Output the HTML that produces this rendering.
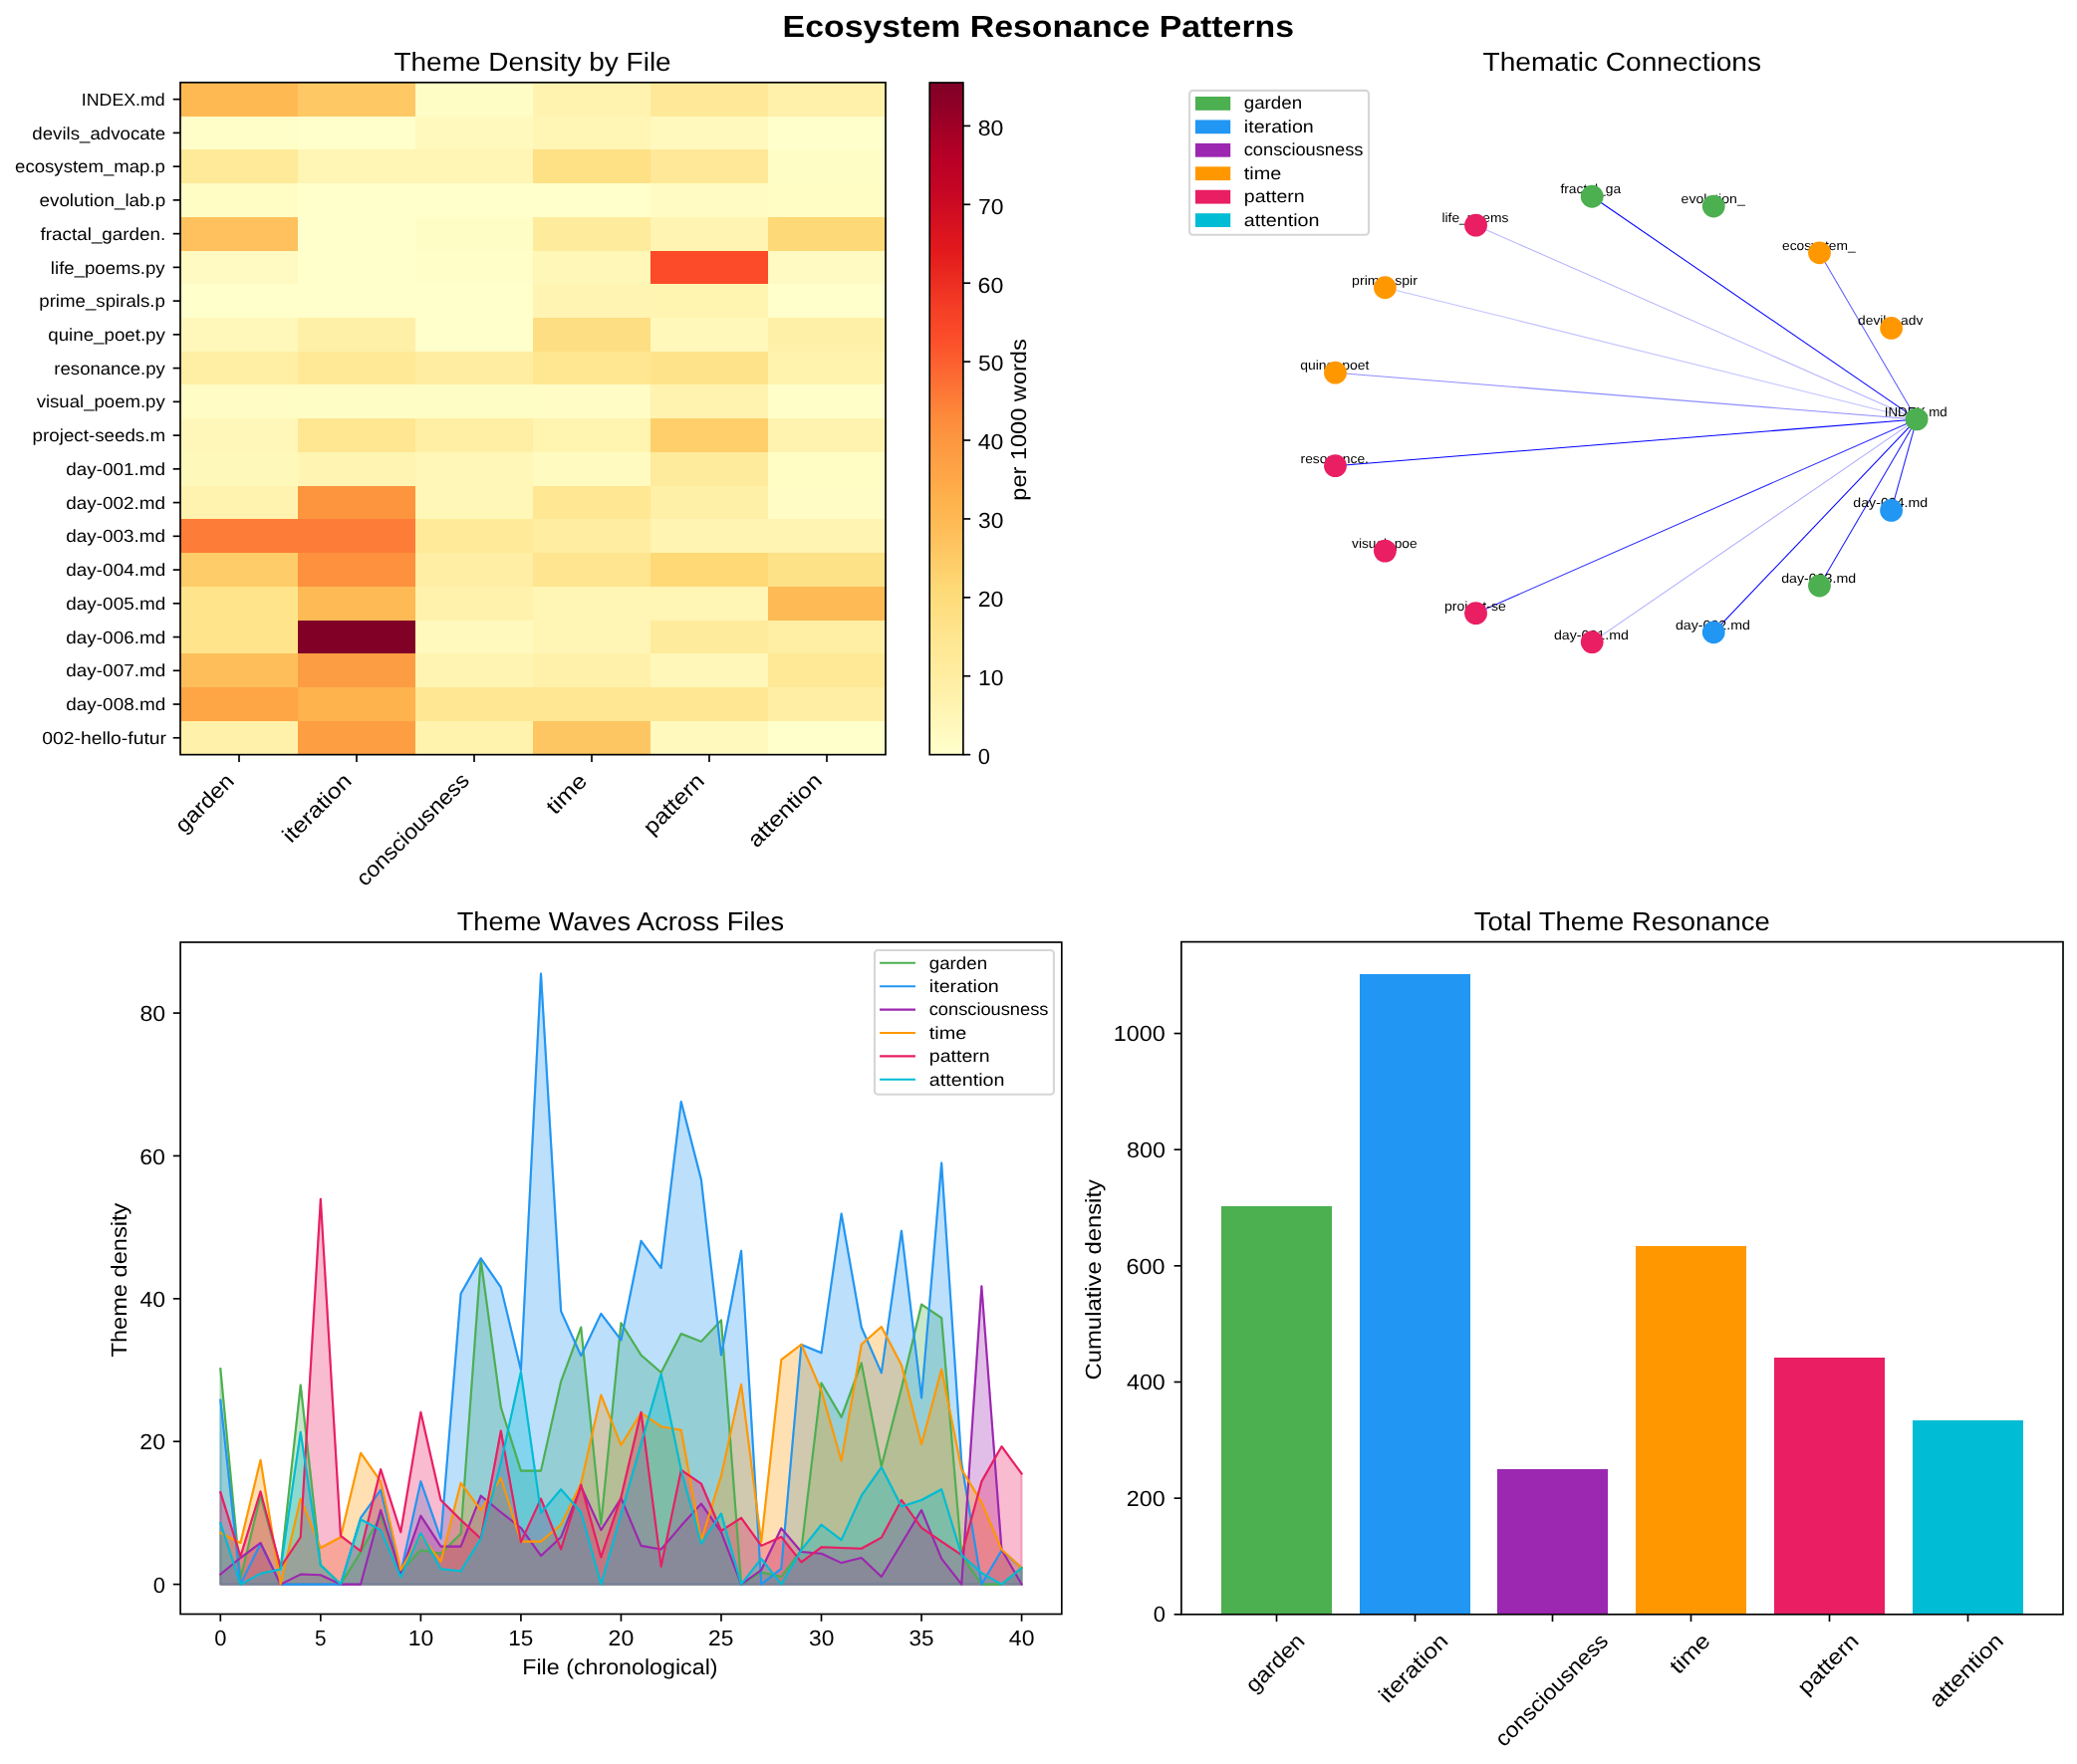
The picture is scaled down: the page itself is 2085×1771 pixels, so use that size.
<!DOCTYPE html>
<html><head><meta charset="utf-8"><title>Ecosystem Resonance Patterns</title>
<style>html,body{margin:0;padding:0;background:#fff}svg{display:block;will-change:transform}text{font-family:"Liberation Sans", sans-serif;text-rendering:geometricPrecision}</style></head>
<body>
<svg width="2085" height="1771" viewBox="0 0 2085 1771" font-family='"Liberation Sans", sans-serif' fill="#000">
<rect width="2085" height="1771" fill="#fff"/>
<g shape-rendering="crispEdges">
<rect x="181" y="82.8" width="118.5" height="34.24" fill="#feb953"/>
<rect x="299" y="82.8" width="118.5" height="34.24" fill="#fec965"/>
<rect x="417" y="82.8" width="118.5" height="34.24" fill="#fffdc6"/>
<rect x="535" y="82.8" width="118.5" height="34.24" fill="#fff3af"/>
<rect x="653" y="82.8" width="118.5" height="34.24" fill="#ffe998"/>
<rect x="771" y="82.8" width="118.5" height="34.24" fill="#fff1a9"/>
<rect x="181" y="116.54" width="118.5" height="34.24" fill="#fffec9"/>
<rect x="299" y="116.54" width="118.5" height="34.24" fill="#ffffcc"/>
<rect x="417" y="116.54" width="118.5" height="34.24" fill="#fff9bd"/>
<rect x="535" y="116.54" width="118.5" height="34.24" fill="#fff5b5"/>
<rect x="653" y="116.54" width="118.5" height="34.24" fill="#fff9bd"/>
<rect x="771" y="116.54" width="118.5" height="34.24" fill="#ffffcc"/>
<rect x="181" y="150.28" width="118.5" height="34.24" fill="#ffea99"/>
<rect x="299" y="150.28" width="118.5" height="34.24" fill="#fff5b5"/>
<rect x="417" y="150.28" width="118.5" height="34.24" fill="#fff5b5"/>
<rect x="535" y="150.28" width="118.5" height="34.24" fill="#fee085"/>
<rect x="653" y="150.28" width="118.5" height="34.24" fill="#ffe998"/>
<rect x="771" y="150.28" width="118.5" height="34.24" fill="#fffdc6"/>
<rect x="181" y="184.03" width="118.5" height="34.24" fill="#fffcc4"/>
<rect x="299" y="184.03" width="118.5" height="34.24" fill="#ffffcc"/>
<rect x="417" y="184.03" width="118.5" height="34.24" fill="#ffffcc"/>
<rect x="535" y="184.03" width="118.5" height="34.24" fill="#ffffcc"/>
<rect x="653" y="184.03" width="118.5" height="34.24" fill="#fffbc2"/>
<rect x="771" y="184.03" width="118.5" height="34.24" fill="#fffcc4"/>
<rect x="181" y="217.77" width="118.5" height="34.24" fill="#fec15d"/>
<rect x="299" y="217.77" width="118.5" height="34.24" fill="#ffffcc"/>
<rect x="417" y="217.77" width="118.5" height="34.24" fill="#fffdc6"/>
<rect x="535" y="217.77" width="118.5" height="34.24" fill="#ffeb9c"/>
<rect x="653" y="217.77" width="118.5" height="34.24" fill="#fff4b2"/>
<rect x="771" y="217.77" width="118.5" height="34.24" fill="#fed977"/>
<rect x="181" y="251.51" width="118.5" height="34.24" fill="#fffac1"/>
<rect x="299" y="251.51" width="118.5" height="34.24" fill="#ffffcc"/>
<rect x="417" y="251.51" width="118.5" height="34.24" fill="#fffdc8"/>
<rect x="535" y="251.51" width="118.5" height="34.24" fill="#fff7b7"/>
<rect x="653" y="251.51" width="118.5" height="34.24" fill="#fb4b29"/>
<rect x="771" y="251.51" width="118.5" height="34.24" fill="#fffac1"/>
<rect x="181" y="285.25" width="118.5" height="34.24" fill="#ffffcc"/>
<rect x="299" y="285.25" width="118.5" height="34.24" fill="#ffffcc"/>
<rect x="417" y="285.25" width="118.5" height="34.24" fill="#ffffcc"/>
<rect x="535" y="285.25" width="118.5" height="34.24" fill="#fff4b2"/>
<rect x="653" y="285.25" width="118.5" height="34.24" fill="#fff4b0"/>
<rect x="771" y="285.25" width="118.5" height="34.24" fill="#ffffcc"/>
<rect x="181" y="319" width="118.5" height="34.24" fill="#fff8ba"/>
<rect x="299" y="319" width="118.5" height="34.24" fill="#fff0a7"/>
<rect x="417" y="319" width="118.5" height="34.24" fill="#ffffcc"/>
<rect x="535" y="319" width="118.5" height="34.24" fill="#fede82"/>
<rect x="653" y="319" width="118.5" height="34.24" fill="#fff8ba"/>
<rect x="771" y="319" width="118.5" height="34.24" fill="#fff0a7"/>
<rect x="181" y="352.74" width="118.5" height="34.24" fill="#ffefa5"/>
<rect x="299" y="352.74" width="118.5" height="34.24" fill="#ffe997"/>
<rect x="417" y="352.74" width="118.5" height="34.24" fill="#ffeda1"/>
<rect x="535" y="352.74" width="118.5" height="34.24" fill="#ffe691"/>
<rect x="653" y="352.74" width="118.5" height="34.24" fill="#fee38b"/>
<rect x="771" y="352.74" width="118.5" height="34.24" fill="#fff3ae"/>
<rect x="181" y="386.48" width="118.5" height="34.24" fill="#fffcc5"/>
<rect x="299" y="386.48" width="118.5" height="34.24" fill="#fffdc6"/>
<rect x="417" y="386.48" width="118.5" height="34.24" fill="#fffdc6"/>
<rect x="535" y="386.48" width="118.5" height="34.24" fill="#fffcc5"/>
<rect x="653" y="386.48" width="118.5" height="34.24" fill="#fff3af"/>
<rect x="771" y="386.48" width="118.5" height="34.24" fill="#fffec9"/>
<rect x="181" y="420.23" width="118.5" height="34.24" fill="#fff7b9"/>
<rect x="299" y="420.23" width="118.5" height="34.24" fill="#ffe691"/>
<rect x="417" y="420.23" width="118.5" height="34.24" fill="#ffefa5"/>
<rect x="535" y="420.23" width="118.5" height="34.24" fill="#fff4b0"/>
<rect x="653" y="420.23" width="118.5" height="34.24" fill="#fecf6b"/>
<rect x="771" y="420.23" width="118.5" height="34.24" fill="#fff3af"/>
<rect x="181" y="453.97" width="118.5" height="34.24" fill="#fff8bb"/>
<rect x="299" y="453.97" width="118.5" height="34.24" fill="#fff4b2"/>
<rect x="417" y="453.97" width="118.5" height="34.24" fill="#fff7b7"/>
<rect x="535" y="453.97" width="118.5" height="34.24" fill="#fffac0"/>
<rect x="653" y="453.97" width="118.5" height="34.24" fill="#ffeb9c"/>
<rect x="771" y="453.97" width="118.5" height="34.24" fill="#fffcc4"/>
<rect x="181" y="487.71" width="118.5" height="34.24" fill="#fff3af"/>
<rect x="299" y="487.71" width="118.5" height="34.24" fill="#fd953f"/>
<rect x="417" y="487.71" width="118.5" height="34.24" fill="#fff7b7"/>
<rect x="535" y="487.71" width="118.5" height="34.24" fill="#ffe793"/>
<rect x="653" y="487.71" width="118.5" height="34.24" fill="#fff0a8"/>
<rect x="771" y="487.71" width="118.5" height="34.24" fill="#fffcc5"/>
<rect x="181" y="521.45" width="118.5" height="34.24" fill="#fd7c37"/>
<rect x="299" y="521.45" width="118.5" height="34.24" fill="#fd7c37"/>
<rect x="417" y="521.45" width="118.5" height="34.24" fill="#ffea99"/>
<rect x="535" y="521.45" width="118.5" height="34.24" fill="#ffeda1"/>
<rect x="653" y="521.45" width="118.5" height="34.24" fill="#fff4b2"/>
<rect x="771" y="521.45" width="118.5" height="34.24" fill="#fff4b2"/>
<rect x="181" y="555.19" width="118.5" height="34.24" fill="#fecc68"/>
<rect x="299" y="555.19" width="118.5" height="34.24" fill="#fd913e"/>
<rect x="417" y="555.19" width="118.5" height="34.24" fill="#ffeea3"/>
<rect x="535" y="555.19" width="118.5" height="34.24" fill="#ffe590"/>
<rect x="653" y="555.19" width="118.5" height="34.24" fill="#fed976"/>
<rect x="771" y="555.19" width="118.5" height="34.24" fill="#fee288"/>
<rect x="181" y="588.94" width="118.5" height="34.24" fill="#ffe48c"/>
<rect x="299" y="588.94" width="118.5" height="34.24" fill="#feba55"/>
<rect x="417" y="588.94" width="118.5" height="34.24" fill="#fff2ac"/>
<rect x="535" y="588.94" width="118.5" height="34.24" fill="#fff5b5"/>
<rect x="653" y="588.94" width="118.5" height="34.24" fill="#fff5b5"/>
<rect x="771" y="588.94" width="118.5" height="34.24" fill="#feba55"/>
<rect x="181" y="622.68" width="118.5" height="34.24" fill="#ffe48c"/>
<rect x="299" y="622.68" width="118.5" height="34.24" fill="#800026"/>
<rect x="417" y="622.68" width="118.5" height="34.24" fill="#fff9bd"/>
<rect x="535" y="622.68" width="118.5" height="34.24" fill="#fff5b5"/>
<rect x="653" y="622.68" width="118.5" height="34.24" fill="#ffeb9c"/>
<rect x="771" y="622.68" width="118.5" height="34.24" fill="#ffefa4"/>
<rect x="181" y="656.42" width="118.5" height="34.24" fill="#febf5a"/>
<rect x="299" y="656.42" width="118.5" height="34.24" fill="#fd9d43"/>
<rect x="417" y="656.42" width="118.5" height="34.24" fill="#fff4b2"/>
<rect x="535" y="656.42" width="118.5" height="34.24" fill="#fff1a9"/>
<rect x="653" y="656.42" width="118.5" height="34.24" fill="#fff7b9"/>
<rect x="771" y="656.42" width="118.5" height="34.24" fill="#ffe997"/>
<rect x="181" y="690.16" width="118.5" height="34.24" fill="#fea546"/>
<rect x="299" y="690.16" width="118.5" height="34.24" fill="#feb34d"/>
<rect x="417" y="690.16" width="118.5" height="34.24" fill="#ffe794"/>
<rect x="535" y="690.16" width="118.5" height="34.24" fill="#ffe793"/>
<rect x="653" y="690.16" width="118.5" height="34.24" fill="#ffe794"/>
<rect x="771" y="690.16" width="118.5" height="34.24" fill="#ffeea3"/>
<rect x="181" y="723.91" width="118.5" height="34.24" fill="#fff1a9"/>
<rect x="299" y="723.91" width="118.5" height="34.24" fill="#fd9e43"/>
<rect x="417" y="723.91" width="118.5" height="34.24" fill="#fff3ae"/>
<rect x="535" y="723.91" width="118.5" height="34.24" fill="#fec662"/>
<rect x="653" y="723.91" width="118.5" height="34.24" fill="#fff9bd"/>
<rect x="771" y="723.91" width="118.5" height="34.24" fill="#ffffcc"/>
</g>
<rect x="181" y="82.8" width="708" height="674.85" fill="none" stroke="#000" stroke-width="1.67"/>
<line x1="240" y1="757.65" x2="240" y2="764.94" stroke="#000" stroke-width="1.67"/>
<line x1="358" y1="757.65" x2="358" y2="764.94" stroke="#000" stroke-width="1.67"/>
<line x1="476" y1="757.65" x2="476" y2="764.94" stroke="#000" stroke-width="1.67"/>
<line x1="594" y1="757.65" x2="594" y2="764.94" stroke="#000" stroke-width="1.67"/>
<line x1="712" y1="757.65" x2="712" y2="764.94" stroke="#000" stroke-width="1.67"/>
<line x1="830" y1="757.65" x2="830" y2="764.94" stroke="#000" stroke-width="1.67"/>
<line x1="181" y1="99.67" x2="173.71" y2="99.67" stroke="#000" stroke-width="1.67"/>
<line x1="181" y1="133.41" x2="173.71" y2="133.41" stroke="#000" stroke-width="1.67"/>
<line x1="181" y1="167.16" x2="173.71" y2="167.16" stroke="#000" stroke-width="1.67"/>
<line x1="181" y1="200.9" x2="173.71" y2="200.9" stroke="#000" stroke-width="1.67"/>
<line x1="181" y1="234.64" x2="173.71" y2="234.64" stroke="#000" stroke-width="1.67"/>
<line x1="181" y1="268.38" x2="173.71" y2="268.38" stroke="#000" stroke-width="1.67"/>
<line x1="181" y1="302.13" x2="173.71" y2="302.13" stroke="#000" stroke-width="1.67"/>
<line x1="181" y1="335.87" x2="173.71" y2="335.87" stroke="#000" stroke-width="1.67"/>
<line x1="181" y1="369.61" x2="173.71" y2="369.61" stroke="#000" stroke-width="1.67"/>
<line x1="181" y1="403.35" x2="173.71" y2="403.35" stroke="#000" stroke-width="1.67"/>
<line x1="181" y1="437.1" x2="173.71" y2="437.1" stroke="#000" stroke-width="1.67"/>
<line x1="181" y1="470.84" x2="173.71" y2="470.84" stroke="#000" stroke-width="1.67"/>
<line x1="181" y1="504.58" x2="173.71" y2="504.58" stroke="#000" stroke-width="1.67"/>
<line x1="181" y1="538.32" x2="173.71" y2="538.32" stroke="#000" stroke-width="1.67"/>
<line x1="181" y1="572.07" x2="173.71" y2="572.07" stroke="#000" stroke-width="1.67"/>
<line x1="181" y1="605.81" x2="173.71" y2="605.81" stroke="#000" stroke-width="1.67"/>
<line x1="181" y1="639.55" x2="173.71" y2="639.55" stroke="#000" stroke-width="1.67"/>
<line x1="181" y1="673.29" x2="173.71" y2="673.29" stroke="#000" stroke-width="1.67"/>
<line x1="181" y1="707.04" x2="173.71" y2="707.04" stroke="#000" stroke-width="1.67"/>
<line x1="181" y1="740.78" x2="173.71" y2="740.78" stroke="#000" stroke-width="1.67"/>
<defs><linearGradient id="cbg" x1="0" y1="1" x2="0" y2="0"><stop offset="0" stop-color="#ffffcc"/><stop offset="0.03" stop-color="#fffac1"/><stop offset="0.06" stop-color="#fff6b6"/><stop offset="0.09" stop-color="#fff1ab"/><stop offset="0.12" stop-color="#ffeda0"/><stop offset="0.16" stop-color="#ffe895"/><stop offset="0.19" stop-color="#fee38b"/><stop offset="0.22" stop-color="#fede80"/><stop offset="0.25" stop-color="#fed976"/><stop offset="0.28" stop-color="#fecf6b"/><stop offset="0.31" stop-color="#fec561"/><stop offset="0.34" stop-color="#febb56"/><stop offset="0.38" stop-color="#feb24c"/><stop offset="0.41" stop-color="#fea848"/><stop offset="0.44" stop-color="#fd9f44"/><stop offset="0.47" stop-color="#fd9640"/><stop offset="0.5" stop-color="#fd8c3c"/><stop offset="0.53" stop-color="#fd7c37"/><stop offset="0.56" stop-color="#fc6c33"/><stop offset="0.59" stop-color="#fc5d2e"/><stop offset="0.62" stop-color="#fc4d2a"/><stop offset="0.66" stop-color="#f54026"/><stop offset="0.69" stop-color="#ef3323"/><stop offset="0.72" stop-color="#e9261f"/><stop offset="0.75" stop-color="#e2191c"/><stop offset="0.78" stop-color="#d9131f"/><stop offset="0.81" stop-color="#cf0c21"/><stop offset="0.84" stop-color="#c50624"/><stop offset="0.88" stop-color="#bb0026"/><stop offset="0.91" stop-color="#ac0026"/><stop offset="0.94" stop-color="#9d0026"/><stop offset="0.97" stop-color="#8d0026"/><stop offset="1" stop-color="#800026"/></linearGradient></defs>
<rect x="933.2" y="83" width="33.7" height="674.65" fill="url(#cbg)"/>
<rect x="933.2" y="83" width="33.7" height="674.65" fill="none" stroke="#000" stroke-width="1.67"/>
<line x1="966.9" y1="757.65" x2="974.19" y2="757.65" stroke="#000" stroke-width="1.67"/>
<line x1="966.9" y1="678.74" x2="974.19" y2="678.74" stroke="#000" stroke-width="1.67"/>
<line x1="966.9" y1="599.84" x2="974.19" y2="599.84" stroke="#000" stroke-width="1.67"/>
<line x1="966.9" y1="520.93" x2="974.19" y2="520.93" stroke="#000" stroke-width="1.67"/>
<line x1="966.9" y1="442.02" x2="974.19" y2="442.02" stroke="#000" stroke-width="1.67"/>
<line x1="966.9" y1="363.12" x2="974.19" y2="363.12" stroke="#000" stroke-width="1.67"/>
<line x1="966.9" y1="284.21" x2="974.19" y2="284.21" stroke="#000" stroke-width="1.67"/>
<line x1="966.9" y1="205.3" x2="974.19" y2="205.3" stroke="#000" stroke-width="1.67"/>
<line x1="966.9" y1="126.4" x2="974.19" y2="126.4" stroke="#000" stroke-width="1.67"/>
<line x1="1924.08" y1="420.93" x2="1598.21" y2="197.27" stroke="#0000ff" stroke-opacity="1.0" stroke-width="1.04"/>
<line x1="1924.08" y1="420.93" x2="1826.47" y2="253.8" stroke="#0000ff" stroke-opacity="0.65" stroke-width="1.04"/>
<line x1="1924.08" y1="420.93" x2="1481.53" y2="226.17" stroke="#0000ff" stroke-opacity="0.3" stroke-width="1.04"/>
<line x1="1924.08" y1="420.93" x2="1390.36" y2="288.74" stroke="#0000ff" stroke-opacity="0.25" stroke-width="1.04"/>
<line x1="1924.08" y1="420.93" x2="1340.46" y2="374.17" stroke="#0000ff" stroke-opacity="0.45" stroke-width="1.04"/>
<line x1="1924.08" y1="420.93" x2="1340.46" y2="467.68" stroke="#0000ff" stroke-opacity="1.0" stroke-width="1.04"/>
<line x1="1924.08" y1="420.93" x2="1481.53" y2="615.68" stroke="#0000ff" stroke-opacity="0.85" stroke-width="1.04"/>
<line x1="1924.08" y1="420.93" x2="1598.21" y2="644.58" stroke="#0000ff" stroke-opacity="0.33" stroke-width="1.04"/>
<line x1="1924.08" y1="420.93" x2="1720.22" y2="634.8" stroke="#0000ff" stroke-opacity="1.0" stroke-width="1.04"/>
<line x1="1924.08" y1="420.93" x2="1826.47" y2="588.05" stroke="#0000ff" stroke-opacity="0.9" stroke-width="1.04"/>
<line x1="1924.08" y1="420.93" x2="1898.58" y2="512.39" stroke="#0000ff" stroke-opacity="0.9" stroke-width="1.04"/>
<g>
<polygon points="221.31,1590.6 221.31,1374.1 241.42,1584.86 261.53,1501.7 281.63,1574.83 301.74,1390.58 321.85,1571.24 341.95,1590.6 362.06,1558.34 382.17,1521.78 402.27,1577.7 422.38,1556.19 442.49,1559.77 462.6,1539.7 482.7,1264.77 502.81,1412.81 522.92,1476.61 543.02,1476.61 563.13,1387 583.24,1332.52 603.34,1530.38 623.45,1328.21 643.56,1360.48 663.66,1378.04 683.77,1338.97 703.88,1346.85 723.98,1325.35 744.09,1590.6 764.2,1578.41 784.3,1583.07 804.41,1556.19 824.52,1388.43 844.62,1422.85 864.73,1368.36 884.84,1472.31 904.95,1393.45 925.05,1309.58 945.16,1323.2 965.27,1561.92 985.37,1590.6 1005.48,1590.6 1025.59,1574.11 1025.59,1590.6" fill="#4CAF50" fill-opacity="0.3" stroke="#4CAF50" stroke-opacity="0.3" stroke-width="2.08" stroke-linejoin="round"/>
<polygon points="221.31,1590.6 221.31,1405.64 241.42,1590.6 261.53,1549.74 281.63,1590.6 301.74,1590.6 321.85,1590.6 341.95,1590.6 362.06,1523.93 382.17,1495.97 402.27,1579.13 422.38,1487.37 442.49,1544.72 462.6,1298.82 482.7,1263.26 502.81,1292.37 522.92,1375.53 543.02,977.65 563.13,1316.39 583.24,1361.19 603.34,1318.89 623.45,1345.42 643.56,1245.77 663.66,1273.01 683.77,1105.98 703.88,1184.12 723.98,1360.48 744.09,1255.81 764.2,1590.6 784.3,1574.83 804.41,1350.08 824.52,1358.32 844.62,1218.53 864.73,1332.52 884.84,1378.4 904.95,1235.73 925.05,1403.49 945.16,1167.63 965.27,1468.73 985.37,1590.6 1005.48,1556.55 1025.59,1574.11 1025.59,1590.6" fill="#2196F3" fill-opacity="0.3" stroke="#2196F3" stroke-opacity="0.3" stroke-width="2.08" stroke-linejoin="round"/>
<polygon points="221.31,1590.6 221.31,1580.56 241.42,1564.07 261.53,1549.02 281.63,1590.6 301.74,1580.56 321.85,1581.28 341.95,1590.6 362.06,1590.6 382.17,1516.04 402.27,1579.85 422.38,1521.78 442.49,1552.6 462.6,1552.6 482.7,1501.7 502.81,1518.19 522.92,1533.96 543.02,1561.92 563.13,1543.28 583.24,1492.38 603.34,1536.12 623.45,1504.21 643.56,1551.89 663.66,1555.47 683.77,1531.81 703.88,1509.59 723.98,1538.27 744.09,1590.6 764.2,1576.26 784.3,1534.32 804.41,1557.98 824.52,1559.77 844.62,1569.09 864.73,1564.07 884.84,1583.07 904.95,1549.74 925.05,1516.04 945.16,1564.79 965.27,1590.6 985.37,1291.29 1005.48,1555.83 1025.59,1590.6 1025.59,1590.6" fill="#9C27B0" fill-opacity="0.3" stroke="#9C27B0" stroke-opacity="0.3" stroke-width="2.08" stroke-linejoin="round"/>
<polygon points="221.31,1590.6 221.31,1538.98 241.42,1549.02 261.53,1465.86 281.63,1590.6 301.74,1504.57 321.85,1554.04 341.95,1543.28 362.06,1458.69 382.17,1487.37 402.27,1576.26 422.38,1541.13 442.49,1567.66 462.6,1488.8 482.7,1516.04 502.81,1483.78 522.92,1547.59 543.02,1547.59 563.13,1530.74 583.24,1489.52 603.34,1400.62 623.45,1450.8 643.56,1418.54 663.66,1432.17 683.77,1435.75 703.88,1546.87 723.98,1481.63 744.09,1389.87 764.2,1548.3 784.3,1365.13 804.41,1349.72 824.52,1396.32 844.62,1466.58 864.73,1349.72 884.84,1332.09 904.95,1370.51 925.05,1450.09 945.16,1374.81 965.27,1475.18 985.37,1508.16 1005.48,1555.83 1025.59,1574.11 1025.59,1590.6" fill="#FF9800" fill-opacity="0.3" stroke="#FF9800" stroke-opacity="0.3" stroke-width="2.08" stroke-linejoin="round"/>
<polygon points="221.31,1590.6 221.31,1498.12 241.42,1562.64 261.53,1497.4 281.63,1573.39 301.74,1543.28 321.85,1203.76 341.95,1541.85 362.06,1557.26 382.17,1475.18 402.27,1538.27 422.38,1417.83 442.49,1506.01 462.6,1526.08 482.7,1544.72 502.81,1436.47 522.92,1548.3 543.02,1504.57 563.13,1555.47 583.24,1490.59 603.34,1563.36 623.45,1503.14 643.56,1417.83 663.66,1572.68 683.77,1475.9 703.88,1489.52 723.98,1536.83 744.09,1523.93 764.2,1551.89 784.3,1542.93 804.41,1568.38 824.52,1553.32 844.62,1554.04 864.73,1554.75 884.84,1543.64 904.95,1506.01 925.05,1533.96 945.16,1547.59 965.27,1561.21 985.37,1487.37 1005.48,1452.24 1025.59,1479.48 1025.59,1590.6" fill="#E91E63" fill-opacity="0.3" stroke="#E91E63" stroke-opacity="0.3" stroke-width="2.08" stroke-linejoin="round"/>
<polygon points="221.31,1590.6 221.31,1528.95 241.42,1590.6 261.53,1579.85 281.63,1575.55 301.74,1437.9 321.85,1571.24 341.95,1590.6 362.06,1525.36 382.17,1536.12 402.27,1583.43 422.38,1539.34 442.49,1575.19 462.6,1577.34 482.7,1544.72 502.81,1468.73 522.92,1377.32 543.02,1518.91 563.13,1495.25 583.24,1518.19 603.34,1590.6 623.45,1520.34 643.56,1449.37 663.66,1379.47 683.77,1475.9 703.88,1549.74 723.98,1519.63 744.09,1590.6 764.2,1564.79 784.3,1590.6 804.41,1556.19 824.52,1530.74 844.62,1546.15 864.73,1501.7 884.84,1473.03 904.95,1512.46 925.05,1506.01 945.16,1495.25 965.27,1561.21 985.37,1579.13 1005.48,1590.6 1025.59,1574.11 1025.59,1590.6" fill="#00BCD4" fill-opacity="0.3" stroke="#00BCD4" stroke-opacity="0.3" stroke-width="2.08" stroke-linejoin="round"/>
<polyline points="221.31,1374.1 241.42,1584.86 261.53,1501.7 281.63,1574.83 301.74,1390.58 321.85,1571.24 341.95,1590.6 362.06,1558.34 382.17,1521.78 402.27,1577.7 422.38,1556.19 442.49,1559.77 462.6,1539.7 482.7,1264.77 502.81,1412.81 522.92,1476.61 543.02,1476.61 563.13,1387 583.24,1332.52 603.34,1530.38 623.45,1328.21 643.56,1360.48 663.66,1378.04 683.77,1338.97 703.88,1346.85 723.98,1325.35 744.09,1590.6 764.2,1578.41 784.3,1583.07 804.41,1556.19 824.52,1388.43 844.62,1422.85 864.73,1368.36 884.84,1472.31 904.95,1393.45 925.05,1309.58 945.16,1323.2 965.27,1561.92 985.37,1590.6 1005.48,1590.6 1025.59,1574.11" fill="none" stroke="#4CAF50" stroke-width="2.08" stroke-linejoin="round" stroke-linecap="square"/>
<polyline points="221.31,1405.64 241.42,1590.6 261.53,1549.74 281.63,1590.6 301.74,1590.6 321.85,1590.6 341.95,1590.6 362.06,1523.93 382.17,1495.97 402.27,1579.13 422.38,1487.37 442.49,1544.72 462.6,1298.82 482.7,1263.26 502.81,1292.37 522.92,1375.53 543.02,977.65 563.13,1316.39 583.24,1361.19 603.34,1318.89 623.45,1345.42 643.56,1245.77 663.66,1273.01 683.77,1105.98 703.88,1184.12 723.98,1360.48 744.09,1255.81 764.2,1590.6 784.3,1574.83 804.41,1350.08 824.52,1358.32 844.62,1218.53 864.73,1332.52 884.84,1378.4 904.95,1235.73 925.05,1403.49 945.16,1167.63 965.27,1468.73 985.37,1590.6 1005.48,1556.55 1025.59,1574.11" fill="none" stroke="#2196F3" stroke-width="2.08" stroke-linejoin="round" stroke-linecap="square"/>
<polyline points="221.31,1580.56 241.42,1564.07 261.53,1549.02 281.63,1590.6 301.74,1580.56 321.85,1581.28 341.95,1590.6 362.06,1590.6 382.17,1516.04 402.27,1579.85 422.38,1521.78 442.49,1552.6 462.6,1552.6 482.7,1501.7 502.81,1518.19 522.92,1533.96 543.02,1561.92 563.13,1543.28 583.24,1492.38 603.34,1536.12 623.45,1504.21 643.56,1551.89 663.66,1555.47 683.77,1531.81 703.88,1509.59 723.98,1538.27 744.09,1590.6 764.2,1576.26 784.3,1534.32 804.41,1557.98 824.52,1559.77 844.62,1569.09 864.73,1564.07 884.84,1583.07 904.95,1549.74 925.05,1516.04 945.16,1564.79 965.27,1590.6 985.37,1291.29 1005.48,1555.83 1025.59,1590.6" fill="none" stroke="#9C27B0" stroke-width="2.08" stroke-linejoin="round" stroke-linecap="square"/>
<polyline points="221.31,1538.98 241.42,1549.02 261.53,1465.86 281.63,1590.6 301.74,1504.57 321.85,1554.04 341.95,1543.28 362.06,1458.69 382.17,1487.37 402.27,1576.26 422.38,1541.13 442.49,1567.66 462.6,1488.8 482.7,1516.04 502.81,1483.78 522.92,1547.59 543.02,1547.59 563.13,1530.74 583.24,1489.52 603.34,1400.62 623.45,1450.8 643.56,1418.54 663.66,1432.17 683.77,1435.75 703.88,1546.87 723.98,1481.63 744.09,1389.87 764.2,1548.3 784.3,1365.13 804.41,1349.72 824.52,1396.32 844.62,1466.58 864.73,1349.72 884.84,1332.09 904.95,1370.51 925.05,1450.09 945.16,1374.81 965.27,1475.18 985.37,1508.16 1005.48,1555.83 1025.59,1574.11" fill="none" stroke="#FF9800" stroke-width="2.08" stroke-linejoin="round" stroke-linecap="square"/>
<polyline points="221.31,1498.12 241.42,1562.64 261.53,1497.4 281.63,1573.39 301.74,1543.28 321.85,1203.76 341.95,1541.85 362.06,1557.26 382.17,1475.18 402.27,1538.27 422.38,1417.83 442.49,1506.01 462.6,1526.08 482.7,1544.72 502.81,1436.47 522.92,1548.3 543.02,1504.57 563.13,1555.47 583.24,1490.59 603.34,1563.36 623.45,1503.14 643.56,1417.83 663.66,1572.68 683.77,1475.9 703.88,1489.52 723.98,1536.83 744.09,1523.93 764.2,1551.89 784.3,1542.93 804.41,1568.38 824.52,1553.32 844.62,1554.04 864.73,1554.75 884.84,1543.64 904.95,1506.01 925.05,1533.96 945.16,1547.59 965.27,1561.21 985.37,1487.37 1005.48,1452.24 1025.59,1479.48" fill="none" stroke="#E91E63" stroke-width="2.08" stroke-linejoin="round" stroke-linecap="square"/>
<polyline points="221.31,1528.95 241.42,1590.6 261.53,1579.85 281.63,1575.55 301.74,1437.9 321.85,1571.24 341.95,1590.6 362.06,1525.36 382.17,1536.12 402.27,1583.43 422.38,1539.34 442.49,1575.19 462.6,1577.34 482.7,1544.72 502.81,1468.73 522.92,1377.32 543.02,1518.91 563.13,1495.25 583.24,1518.19 603.34,1590.6 623.45,1520.34 643.56,1449.37 663.66,1379.47 683.77,1475.9 703.88,1549.74 723.98,1519.63 744.09,1590.6 764.2,1564.79 784.3,1590.6 804.41,1556.19 824.52,1530.74 844.62,1546.15 864.73,1501.7 884.84,1473.03 904.95,1512.46 925.05,1506.01 945.16,1495.25 965.27,1561.21 985.37,1579.13 1005.48,1590.6 1025.59,1574.11" fill="none" stroke="#00BCD4" stroke-width="2.08" stroke-linejoin="round" stroke-linecap="square"/>
</g>
<rect x="181.1" y="946" width="884.7" height="674.5" fill="none" stroke="#000" stroke-width="1.67"/>
<line x1="221.31" y1="1620.5" x2="221.31" y2="1627.79" stroke="#000" stroke-width="1.67"/>
<line x1="321.85" y1="1620.5" x2="321.85" y2="1627.79" stroke="#000" stroke-width="1.67"/>
<line x1="422.38" y1="1620.5" x2="422.38" y2="1627.79" stroke="#000" stroke-width="1.67"/>
<line x1="522.92" y1="1620.5" x2="522.92" y2="1627.79" stroke="#000" stroke-width="1.67"/>
<line x1="623.45" y1="1620.5" x2="623.45" y2="1627.79" stroke="#000" stroke-width="1.67"/>
<line x1="723.98" y1="1620.5" x2="723.98" y2="1627.79" stroke="#000" stroke-width="1.67"/>
<line x1="824.52" y1="1620.5" x2="824.52" y2="1627.79" stroke="#000" stroke-width="1.67"/>
<line x1="925.05" y1="1620.5" x2="925.05" y2="1627.79" stroke="#000" stroke-width="1.67"/>
<line x1="1025.59" y1="1620.5" x2="1025.59" y2="1627.79" stroke="#000" stroke-width="1.67"/>
<line x1="181.1" y1="1590.6" x2="173.81" y2="1590.6" stroke="#000" stroke-width="1.67"/>
<line x1="181.1" y1="1447.22" x2="173.81" y2="1447.22" stroke="#000" stroke-width="1.67"/>
<line x1="181.1" y1="1303.84" x2="173.81" y2="1303.84" stroke="#000" stroke-width="1.67"/>
<line x1="181.1" y1="1160.46" x2="173.81" y2="1160.46" stroke="#000" stroke-width="1.67"/>
<line x1="181.1" y1="1017.08" x2="173.81" y2="1017.08" stroke="#000" stroke-width="1.67"/>
<rect x="1226" y="1211" width="111" height="409.8" fill="#4CAF50"/>
<line x1="1281.5" y1="1620.8" x2="1281.5" y2="1628.09" stroke="#000" stroke-width="1.67"/>
<rect x="1365" y="978" width="111" height="642.8" fill="#2196F3"/>
<line x1="1420.5" y1="1620.8" x2="1420.5" y2="1628.09" stroke="#000" stroke-width="1.67"/>
<rect x="1503" y="1475" width="111" height="145.8" fill="#9C27B0"/>
<line x1="1558.5" y1="1620.8" x2="1558.5" y2="1628.09" stroke="#000" stroke-width="1.67"/>
<rect x="1642" y="1251" width="111" height="369.8" fill="#FF9800"/>
<line x1="1697.5" y1="1620.8" x2="1697.5" y2="1628.09" stroke="#000" stroke-width="1.67"/>
<rect x="1781" y="1363" width="111" height="257.8" fill="#E91E63"/>
<line x1="1836.5" y1="1620.8" x2="1836.5" y2="1628.09" stroke="#000" stroke-width="1.67"/>
<rect x="1920" y="1426" width="111" height="194.8" fill="#00BCD4"/>
<line x1="1975.5" y1="1620.8" x2="1975.5" y2="1628.09" stroke="#000" stroke-width="1.67"/>
<rect x="1185.9" y="945.6" width="885.1" height="675.2" fill="none" stroke="#000" stroke-width="1.67"/>
<line x1="1185.9" y1="1620.8" x2="1178.61" y2="1620.8" stroke="#000" stroke-width="1.67"/>
<line x1="1185.9" y1="1504.15" x2="1178.61" y2="1504.15" stroke="#000" stroke-width="1.67"/>
<line x1="1185.9" y1="1387.49" x2="1178.61" y2="1387.49" stroke="#000" stroke-width="1.67"/>
<line x1="1185.9" y1="1270.84" x2="1178.61" y2="1270.84" stroke="#000" stroke-width="1.67"/>
<line x1="1185.9" y1="1154.19" x2="1178.61" y2="1154.19" stroke="#000" stroke-width="1.67"/>
<line x1="1185.9" y1="1037.54" x2="1178.61" y2="1037.54" stroke="#000" stroke-width="1.67"/>
<rect x="1194.1" y="90.9" width="179.9" height="144.8" rx="3.3" fill="#fff" fill-opacity="0.8" stroke="#ccc" stroke-opacity="0.8" stroke-width="2.08"/>
<rect x="1199.9" y="97" width="35.3" height="13.8" fill="#4CAF50"/>
<rect x="1199.9" y="120.44" width="35.3" height="13.8" fill="#2196F3"/>
<rect x="1199.9" y="143.88" width="35.3" height="13.8" fill="#9C27B0"/>
<rect x="1199.9" y="167.32" width="35.3" height="13.8" fill="#FF9800"/>
<rect x="1199.9" y="190.76" width="35.3" height="13.8" fill="#E91E63"/>
<rect x="1199.9" y="214.2" width="35.3" height="13.8" fill="#00BCD4"/>
<rect x="878" y="954" width="179.9" height="144.7" rx="3.3" fill="#fff" fill-opacity="0.8" stroke="#ccc" stroke-opacity="0.8" stroke-width="2.08"/>
<line x1="884.1" y1="966.8" x2="917.9" y2="966.8" stroke="#4CAF50" stroke-width="2.08" stroke-linecap="square"/>
<line x1="884.1" y1="990.2" x2="917.9" y2="990.2" stroke="#2196F3" stroke-width="2.08" stroke-linecap="square"/>
<line x1="884.1" y1="1013.6" x2="917.9" y2="1013.6" stroke="#9C27B0" stroke-width="2.08" stroke-linecap="square"/>
<line x1="884.1" y1="1037" x2="917.9" y2="1037" stroke="#FF9800" stroke-width="2.08" stroke-linecap="square"/>
<line x1="884.1" y1="1060.4" x2="917.9" y2="1060.4" stroke="#E91E63" stroke-width="2.08" stroke-linecap="square"/>
<line x1="884.1" y1="1083.8" x2="917.9" y2="1083.8" stroke="#00BCD4" stroke-width="2.08" stroke-linecap="square"/>
<text transform="translate(184.55 837.25) rotate(-45)" x="0.15" font-size="21.88" textLength="73.01" lengthAdjust="spacingAndGlyphs">garden</text>
<text transform="translate(292.18 847.5) rotate(-45)" x="0.27" font-size="21.88" textLength="87.53" lengthAdjust="spacingAndGlyphs">iteration</text>
<text transform="translate(366.32 890.95) rotate(-45)" x="0.18" font-size="21.88" textLength="149.61" lengthAdjust="spacingAndGlyphs">consciousness</text>
<text transform="translate(557.12 818.76) rotate(-45)" x="0.2" font-size="21.88" textLength="46.89" lengthAdjust="spacingAndGlyphs">time</text>
<text transform="translate(654.33 839.35) rotate(-45)" x="0.29" font-size="21.88" textLength="76.05" lengthAdjust="spacingAndGlyphs">pattern</text>
<text transform="translate(759.31 852.23) rotate(-45)" x="0.2" font-size="21.88" textLength="94.66" lengthAdjust="spacingAndGlyphs">attention</text>
<text x="81.81" y="105.89" font-size="17.5" textLength="83.93" lengthAdjust="spacingAndGlyphs">INDEX.md</text>
<text x="32.36" y="139.62" font-size="17.5" textLength="133.82" lengthAdjust="spacingAndGlyphs">devils_advocate</text>
<text x="15.12" y="173.22" font-size="17.5" textLength="150.82" lengthAdjust="spacingAndGlyphs">ecosystem_map.p</text>
<text x="39.47" y="207.09" font-size="17.5" textLength="126.81" lengthAdjust="spacingAndGlyphs">evolution_lab.p</text>
<text x="40.62" y="240.82" font-size="17.5" textLength="125.62" lengthAdjust="spacingAndGlyphs">fractal_garden.</text>
<text x="50.88" y="274.56" font-size="17.5" textLength="114.68" lengthAdjust="spacingAndGlyphs">life_poems.py</text>
<text x="39.26" y="308.29" font-size="17.5" textLength="126.59" lengthAdjust="spacingAndGlyphs">prime_spirals.p</text>
<text x="48.22" y="342.02" font-size="17.5" textLength="117.69" lengthAdjust="spacingAndGlyphs">quine_poet.py</text>
<text x="54.39" y="375.76" font-size="17.5" textLength="111.36" lengthAdjust="spacingAndGlyphs">resonance.py</text>
<text x="36.68" y="409.49" font-size="17.5" textLength="129.07" lengthAdjust="spacingAndGlyphs">visual_poem.py</text>
<text x="32.64" y="443.22" font-size="17.5" textLength="133.42" lengthAdjust="spacingAndGlyphs">project-seeds.m</text>
<text x="66.2" y="476.96" font-size="17.5" textLength="99.88" lengthAdjust="spacingAndGlyphs">day-001.md</text>
<text x="66.2" y="510.69" font-size="17.5" textLength="99.88" lengthAdjust="spacingAndGlyphs">day-002.md</text>
<text x="66.2" y="544.42" font-size="17.5" textLength="99.88" lengthAdjust="spacingAndGlyphs">day-003.md</text>
<text x="66.33" y="578.16" font-size="17.5" textLength="99.88" lengthAdjust="spacingAndGlyphs">day-004.md</text>
<text x="66.33" y="611.89" font-size="17.5" textLength="99.88" lengthAdjust="spacingAndGlyphs">day-005.md</text>
<text x="66.33" y="645.62" font-size="17.5" textLength="99.88" lengthAdjust="spacingAndGlyphs">day-006.md</text>
<text x="66.33" y="679.35" font-size="17.5" textLength="99.88" lengthAdjust="spacingAndGlyphs">day-007.md</text>
<text x="66.33" y="713.09" font-size="17.5" textLength="99.88" lengthAdjust="spacingAndGlyphs">day-008.md</text>
<text x="42.21" y="746.82" font-size="17.5" textLength="124.78" lengthAdjust="spacingAndGlyphs">002-hello-futur</text>
<text x="395.48" y="70.5" font-size="26.25" textLength="278.21" lengthAdjust="spacingAndGlyphs">Theme Density by File</text>
<text x="1891.81" y="417.92" font-size="13.12" textLength="62.95" lengthAdjust="spacingAndGlyphs">INDEX.md</text>
<text x="1865.04" y="326.45" font-size="13.12" textLength="65.28" lengthAdjust="spacingAndGlyphs">devils_adv</text>
<text x="1789.06" y="250.8" font-size="13.12" textLength="73.51" lengthAdjust="spacingAndGlyphs">ecosystem_</text>
<text x="1687.55" y="204.04" font-size="13.12" textLength="64.2" lengthAdjust="spacingAndGlyphs">evolution_</text>
<text x="1566.43" y="194.27" font-size="13.12" textLength="60.69" lengthAdjust="spacingAndGlyphs">fractal_ga</text>
<text x="1447.43" y="223.16" font-size="13.12" textLength="66.93" lengthAdjust="spacingAndGlyphs">life_poems</text>
<text x="1357.12" y="285.74" font-size="13.12" textLength="65.76" lengthAdjust="spacingAndGlyphs">prime_spir</text>
<text x="1305.23" y="371.17" font-size="13.12" textLength="69.1" lengthAdjust="spacingAndGlyphs">quine_poet</text>
<text x="1305.55" y="464.68" font-size="13.12" textLength="68.43" lengthAdjust="spacingAndGlyphs">resonance.</text>
<text x="1357.07" y="550.11" font-size="13.12" textLength="65.57" lengthAdjust="spacingAndGlyphs">visual_poe</text>
<text x="1449.98" y="612.68" font-size="13.12" textLength="61.84" lengthAdjust="spacingAndGlyphs">project-se</text>
<text x="1559.97" y="641.58" font-size="13.12" textLength="74.91" lengthAdjust="spacingAndGlyphs">day-001.md</text>
<text x="1681.98" y="631.8" font-size="13.12" textLength="74.91" lengthAdjust="spacingAndGlyphs">day-002.md</text>
<text x="1788.23" y="585.05" font-size="13.12" textLength="74.91" lengthAdjust="spacingAndGlyphs">day-003.md</text>
<text x="1860.34" y="509.39" font-size="13.12" textLength="74.91" lengthAdjust="spacingAndGlyphs">day-004.md</text>
<circle cx="1924.08" cy="420.93" r="11.4" fill="#4CAF50"/>
<circle cx="1898.58" cy="329.46" r="11.4" fill="#FF9800"/>
<circle cx="1826.47" cy="253.8" r="11.4" fill="#FF9800"/>
<circle cx="1720.22" cy="207.05" r="11.4" fill="#4CAF50"/>
<circle cx="1598.21" cy="197.27" r="11.4" fill="#4CAF50"/>
<circle cx="1481.53" cy="226.17" r="11.4" fill="#E91E63"/>
<circle cx="1390.36" cy="288.74" r="11.4" fill="#FF9800"/>
<circle cx="1340.46" cy="374.17" r="11.4" fill="#FF9800"/>
<circle cx="1340.46" cy="467.68" r="11.4" fill="#E91E63"/>
<circle cx="1390.36" cy="553.11" r="11.4" fill="#E91E63"/>
<circle cx="1481.53" cy="615.68" r="11.4" fill="#E91E63"/>
<circle cx="1598.21" cy="644.58" r="11.4" fill="#E91E63"/>
<circle cx="1720.22" cy="634.8" r="11.4" fill="#2196F3"/>
<circle cx="1826.47" cy="588.05" r="11.4" fill="#4CAF50"/>
<circle cx="1898.58" cy="512.39" r="11.4" fill="#2196F3"/>
<text x="1488.47" y="70.5" font-size="26.25" textLength="279.54" lengthAdjust="spacingAndGlyphs">Thematic Connections</text>
<text x="1248.72" y="109.4" font-size="17.5" textLength="58.41" lengthAdjust="spacingAndGlyphs">garden</text>
<text x="1248.81" y="132.85" font-size="17.5" textLength="70.02" lengthAdjust="spacingAndGlyphs">iteration</text>
<text x="1248.74" y="156.3" font-size="17.5" textLength="119.69" lengthAdjust="spacingAndGlyphs">consciousness</text>
<text x="1248.76" y="179.75" font-size="17.5" textLength="37.51" lengthAdjust="spacingAndGlyphs">time</text>
<text x="1248.83" y="203.2" font-size="17.5" textLength="60.84" lengthAdjust="spacingAndGlyphs">pattern</text>
<text x="1248.76" y="226.65" font-size="17.5" textLength="75.73" lengthAdjust="spacingAndGlyphs">attention</text>
<text x="215.18" y="1652.05" font-size="21.88" textLength="12.19" lengthAdjust="spacingAndGlyphs">0</text>
<text x="315.98" y="1652.05" font-size="21.88" textLength="11.53" lengthAdjust="spacingAndGlyphs">5</text>
<text x="409.69" y="1652.05" font-size="21.88" textLength="25.5" lengthAdjust="spacingAndGlyphs">10</text>
<text x="510.27" y="1652.05" font-size="21.88" textLength="25.1" lengthAdjust="spacingAndGlyphs">15</text>
<text x="610.57" y="1652.05" font-size="21.88" textLength="25.72" lengthAdjust="spacingAndGlyphs">20</text>
<text x="711.13" y="1652.05" font-size="21.88" textLength="25.33" lengthAdjust="spacingAndGlyphs">25</text>
<text x="812.01" y="1652.05" font-size="21.88" textLength="25.36" lengthAdjust="spacingAndGlyphs">30</text>
<text x="912.57" y="1652.05" font-size="21.88" textLength="24.97" lengthAdjust="spacingAndGlyphs">35</text>
<text x="1012.87" y="1652.05" font-size="21.88" textLength="25.6" lengthAdjust="spacingAndGlyphs">40</text>
<text x="524.26" y="1681.28" font-size="21.88" textLength="196.29" lengthAdjust="spacingAndGlyphs">File (chronological)</text>
<text x="153.77" y="1598.83" font-size="21.88" textLength="12.19" lengthAdjust="spacingAndGlyphs">0</text>
<text x="140.35" y="1455.39" font-size="21.88" textLength="25.72" lengthAdjust="spacingAndGlyphs">20</text>
<text x="140.47" y="1311.95" font-size="21.88" textLength="25.6" lengthAdjust="spacingAndGlyphs">40</text>
<text x="140.17" y="1168.52" font-size="21.88" textLength="25.78" lengthAdjust="spacingAndGlyphs">60</text>
<text x="140.55" y="1025.08" font-size="21.88" textLength="25.65" lengthAdjust="spacingAndGlyphs">80</text>
<text transform="translate(126.85 1361.91) rotate(-90)" x="-0.58" font-size="21.88" textLength="154.88" lengthAdjust="spacingAndGlyphs">Theme density</text>
<text x="458.67" y="933.85" font-size="26.25" textLength="328.5" lengthAdjust="spacingAndGlyphs">Theme Waves Across Files</text>
<text x="932.72" y="972.6" font-size="17.5" textLength="58.41" lengthAdjust="spacingAndGlyphs">garden</text>
<text x="932.81" y="996.02" font-size="17.5" textLength="70.02" lengthAdjust="spacingAndGlyphs">iteration</text>
<text x="932.74" y="1019.44" font-size="17.5" textLength="119.69" lengthAdjust="spacingAndGlyphs">consciousness</text>
<text x="932.76" y="1042.86" font-size="17.5" textLength="37.51" lengthAdjust="spacingAndGlyphs">time</text>
<text x="932.83" y="1066.28" font-size="17.5" textLength="60.84" lengthAdjust="spacingAndGlyphs">pattern</text>
<text x="932.76" y="1089.7" font-size="17.5" textLength="75.73" lengthAdjust="spacingAndGlyphs">attention</text>
<text transform="translate(1259.24 1700.63) rotate(-45)" x="0.15" font-size="21.88" textLength="73.01" lengthAdjust="spacingAndGlyphs">garden</text>
<text transform="translate(1392.8 1710.98) rotate(-45)" x="0.27" font-size="21.88" textLength="87.53" lengthAdjust="spacingAndGlyphs">iteration</text>
<text transform="translate(1509.61 1754.82) rotate(-45)" x="0.18" font-size="21.88" textLength="149.61" lengthAdjust="spacingAndGlyphs">consciousness</text>
<text transform="translate(1684.77 1681.98) rotate(-45)" x="0.2" font-size="21.88" textLength="46.89" lengthAdjust="spacingAndGlyphs">time</text>
<text transform="translate(1813.11 1702.76) rotate(-45)" x="0.29" font-size="21.88" textLength="76.05" lengthAdjust="spacingAndGlyphs">pattern</text>
<text transform="translate(1945.34 1715.75) rotate(-45)" x="0.2" font-size="21.88" textLength="94.66" lengthAdjust="spacingAndGlyphs">attention</text>
<text x="1157.73" y="1628.26" font-size="21.88" textLength="12.19" lengthAdjust="spacingAndGlyphs">0</text>
<text x="1130.82" y="1511.7" font-size="21.88" textLength="38.94" lengthAdjust="spacingAndGlyphs">200</text>
<text x="1130.94" y="1395.12" font-size="21.88" textLength="38.82" lengthAdjust="spacingAndGlyphs">400</text>
<text x="1130.64" y="1278.53" font-size="21.88" textLength="39" lengthAdjust="spacingAndGlyphs">600</text>
<text x="1131.02" y="1161.95" font-size="21.88" textLength="38.87" lengthAdjust="spacingAndGlyphs">800</text>
<text x="1117.65" y="1045.36" font-size="21.88" textLength="52.06" lengthAdjust="spacingAndGlyphs">1000</text>
<text transform="translate(1104.68 1385.42) rotate(-90)" x="-0.05" font-size="21.88" textLength="201.43" lengthAdjust="spacingAndGlyphs">Cumulative density</text>
<text x="1479.67" y="933.85" font-size="26.25" textLength="297.21" lengthAdjust="spacingAndGlyphs">Total Theme Resonance</text>
<text x="981.87" y="766.89" font-size="21.88" textLength="12.19" lengthAdjust="spacingAndGlyphs">0</text>
<text x="981.91" y="688.08" font-size="21.88" textLength="25.5" lengthAdjust="spacingAndGlyphs">10</text>
<text x="981.7" y="609.17" font-size="21.88" textLength="25.72" lengthAdjust="spacingAndGlyphs">20</text>
<text x="982.05" y="530.27" font-size="21.88" textLength="25.36" lengthAdjust="spacingAndGlyphs">30</text>
<text x="981.81" y="451.36" font-size="21.88" textLength="25.6" lengthAdjust="spacingAndGlyphs">40</text>
<text x="982.04" y="372.45" font-size="21.88" textLength="25.36" lengthAdjust="spacingAndGlyphs">50</text>
<text x="981.64" y="293.54" font-size="21.88" textLength="25.78" lengthAdjust="spacingAndGlyphs">60</text>
<text x="981.91" y="214.63" font-size="21.88" textLength="25.5" lengthAdjust="spacingAndGlyphs">70</text>
<text x="981.77" y="135.73" font-size="21.88" textLength="25.65" lengthAdjust="spacingAndGlyphs">80</text>
<text transform="translate(1030.09 503.03) rotate(-90)" x="0.34" font-size="21.88" textLength="162.43" lengthAdjust="spacingAndGlyphs">per 1000 words</text>
<text x="785.61" y="37" font-size="30.63" font-weight="bold" textLength="513.44" lengthAdjust="spacingAndGlyphs">Ecosystem Resonance Patterns</text>
</svg>
</body></html>
